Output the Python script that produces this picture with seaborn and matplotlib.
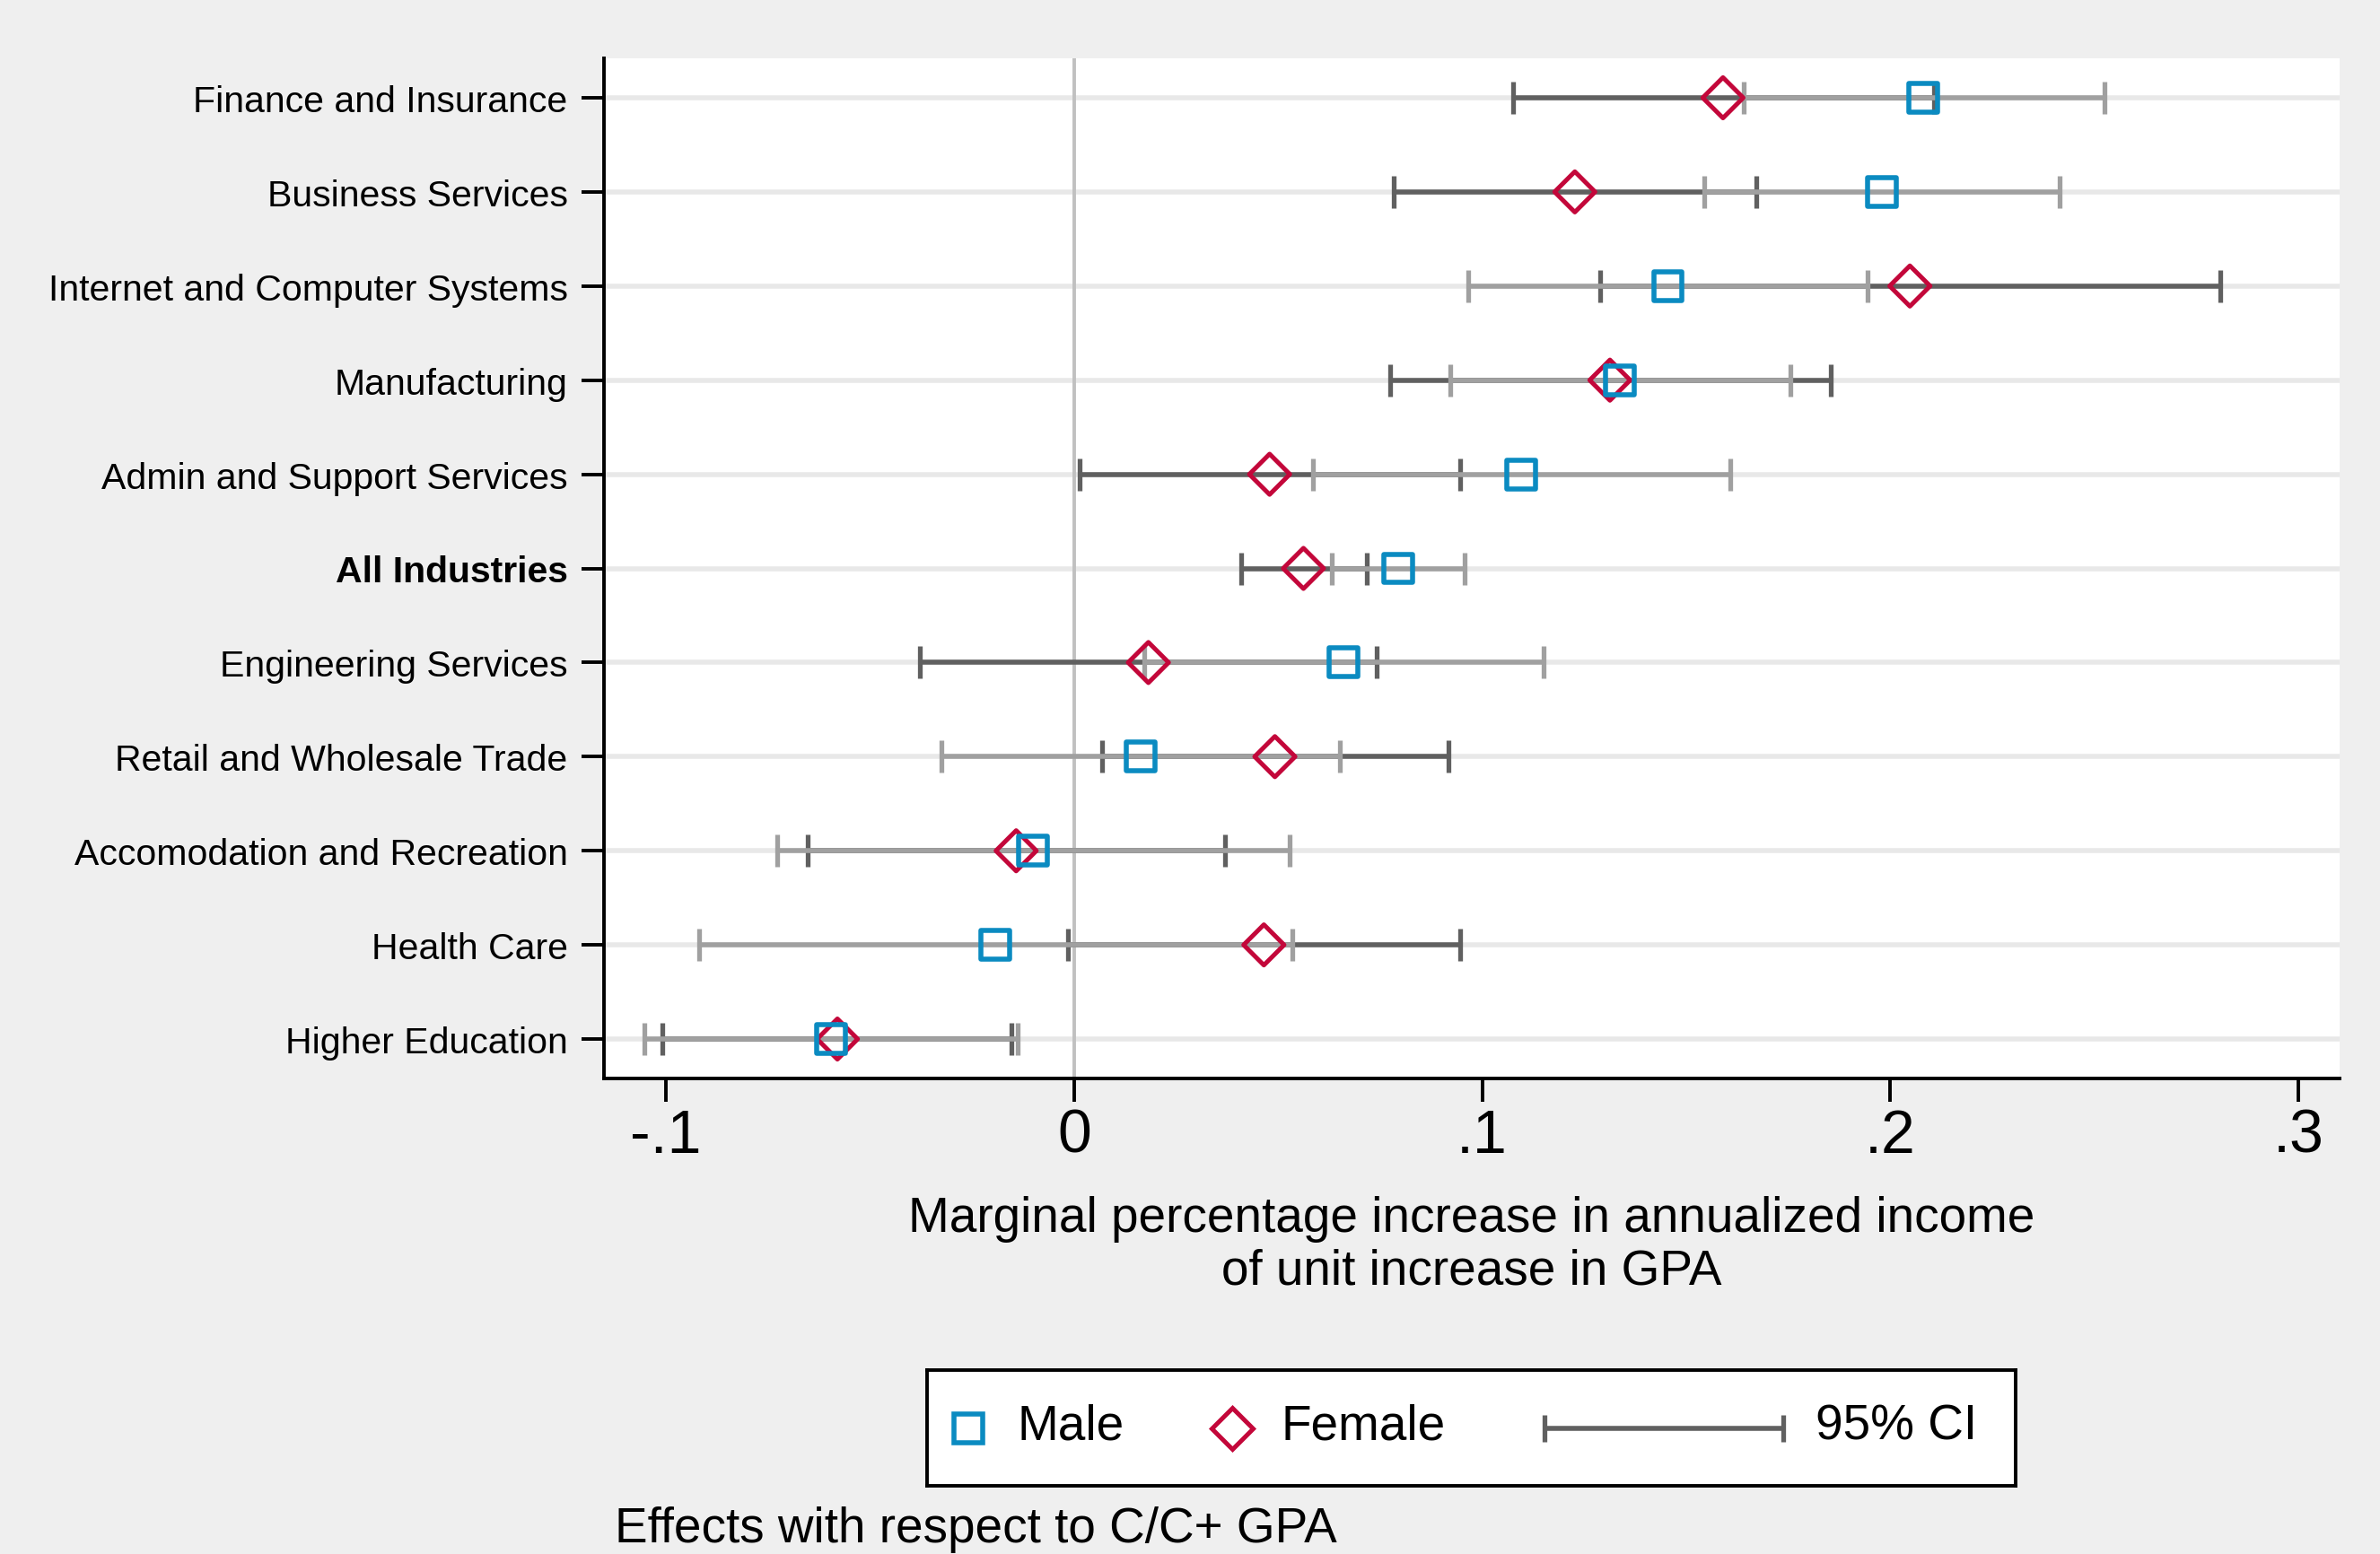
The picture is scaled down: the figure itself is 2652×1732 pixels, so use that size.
import numpy as np
import pandas as pd
import matplotlib
matplotlib.use("Agg")
import matplotlib.pyplot as plt
import seaborn as sns

# ---------------- data ----------------
industries = [
    "Finance and Insurance",
    "Business Services",
    "Internet and Computer Systems",
    "Manufacturing",
    "Admin and Support Services",
    "All Industries",
    "Engineering Services",
    "Retail and Wholesale Trade",
    "Accomodation and Recreation",
    "Health Care",
    "Higher Education",
]
male_est = [0.2080, 0.1980, 0.1455, 0.1338, 0.1096, 0.0795, 0.0661, 0.0164, -0.0100, -0.0193, -0.0596]
male_lo = [0.1640, 0.1543, 0.0965, 0.0922, 0.0585, 0.0632, 0.0171, -0.0325, -0.0727, -0.0919, -0.1052]
male_hi = [0.2524, 0.2415, 0.1944, 0.1755, 0.1608, 0.0958, 0.1150, 0.0652, 0.0528, 0.0534, -0.0139]
female_est = [0.1590, 0.1227, 0.2048, 0.1313, 0.0479, 0.0562, 0.0182, 0.0492, -0.0142, 0.0465, -0.0580]
female_lo = [0.1076, 0.0783, 0.1288, 0.0775, 0.0013, 0.0409, -0.0378, 0.0069, -0.0653, -0.0016, -0.1009]
female_hi = [0.2106, 0.1672, 0.2808, 0.1855, 0.0945, 0.0717, 0.0742, 0.0917, 0.0369, 0.0945, -0.0154]

x_ticks = [-0.1, 0.0, 0.1, 0.2, 0.3]
x_tick_labels = ["-.1", "0", ".1", ".2", ".3"]
bold_label = "All Industries"
x_title = "Marginal percentage increase in annualized income\nof unit increase in GPA"
note_text = "Effects with respect to C/C+ GPA"
legend_labels = ["Male", "Female", "95% CI"]

# ---------------- style ----------------
BG = "#efefef"
BLUE = "#0b8bc1"
RED = "#c3073a"
DARK = "#606060"
LIGHT = "#a0a0a0"
GRID = "#e8e8e8"

sns.set_style("white")
plt.rcParams["font.family"] = ["Liberation Sans", "DejaVu Sans"]
plt.rcParams["text.color"] = "black"
plt.rcParams["axes.labelcolor"] = "black"
plt.rcParams["xtick.color"] = "black"
plt.rcParams["ytick.color"] = "black"

W, H = 2652, 1733
fig = plt.figure(figsize=(W / 100, H / 100), dpi=100, facecolor=BG)
ax = fig.add_axes([673 / W, 1 - 1203 / H, (2607 - 673) / W, (1203 - 66) / H])
ax.set_facecolor("white")

df_m = pd.DataFrame({"industry": industries, "estimate": male_est, "lo": male_lo, "hi": male_hi})
df_f = pd.DataFrame({"industry": industries, "estimate": female_est, "lo": female_lo, "hi": female_hi})

# markers via seaborn (sets up categorical y axis)
sns.scatterplot(data=df_f, x="estimate", y="industry", marker="D", s=23 ** 2,
                facecolor="none", edgecolor=RED, linewidth=3.6, ax=ax, legend=False, zorder=5)
sns.scatterplot(data=df_m, x="estimate", y="industry", marker="s", s=23 ** 2,
                facecolor="none", edgecolor=BLUE, linewidth=4.0, ax=ax, legend=False, zorder=6)

# confidence intervals
for d, col, z in [(df_f, DARK, 3), (df_m, LIGHT, 4)]:
    ax.errorbar(x=d["estimate"], y=d["industry"],
                xerr=[d["estimate"] - d["lo"], d["hi"] - d["estimate"]],
                fmt="none", ecolor=col, elinewidth=4.0, capsize=13, capthick=3.8, zorder=z)

ax.axvline(0, color="#c0c0c0", lw=2.8, zorder=2)
ax.grid(axis="y", color=GRID, lw=4.0)
ax.grid(axis="x", visible=False)
ax.set_axisbelow(True)

ax.set_xlim(-0.1152, 0.3101)
ax.set_ylim(10.419, -0.419)
ax.set_xticks(x_ticks)
ax.set_xticklabels(x_tick_labels)
ax.set_ylabel("")

for s in ["top", "right"]:
    ax.spines[s].set_visible(False)
for s in ["left", "bottom"]:
    ax.spines[s].set_color("black")
    ax.spines[s].set_linewidth(2.8)

ax.tick_params(axis="x", length=19, width=2.8, labelsize=49, pad=4, color="black",
               labelcolor="black", bottom=True, direction="out")
ax.tick_params(axis="y", length=18, width=2.8, labelsize=29.5, pad=11, color="black",
               labelcolor="black", left=True, direction="out")

ax.set_xlabel(x_title, fontsize=39.5, linespacing=1.16, color="black")
ax.xaxis.set_label_coords(0.5, -0.1143)

fig.canvas.draw()
for lab in ax.get_yticklabels():
    if lab.get_text() == bold_label:
        lab.set_fontweight("bold")

# ---------------- legend ----------------
lax = fig.add_axes([1033 / W, 1 - 1657 / H, (2246 - 1033) / W, (1657 - 1528) / H])
lax.set_xlim(0, 1213)
lax.set_ylim(0, 129)
lax.set_xticks([])
lax.set_yticks([])
lax.set_facecolor("white")
for s in lax.spines.values():
    s.set_visible(True)
    s.set_color("black")
    s.set_linewidth(2.8)

yc = 64
lax.plot([45.5], [yc], marker="s", ms=23, mfc="none", mec=BLUE, mew=4.0, ls="none")
lax.plot([340], [yc], marker="D", ms=23, mfc="none", mec=RED, mew=3.6, ls="none")
lax.errorbar(x=[820.5], y=[yc], xerr=[[133]], fmt="none", ecolor=DARK,
             elinewidth=4.0, capsize=11, capthick=3.8)
for xt, lab in zip([100, 395, 990], legend_labels):
    lax.text(xt, 52, lab, fontsize=39.5, va="baseline", ha="left", color="black")

# ---------------- note ----------------
fig.text(685 / W, (H - 1719) / H, note_text, fontsize=39.5, va="baseline", ha="left",
         color="black")

fig.savefig("out.png", dpi=100, facecolor=fig.get_facecolor())
